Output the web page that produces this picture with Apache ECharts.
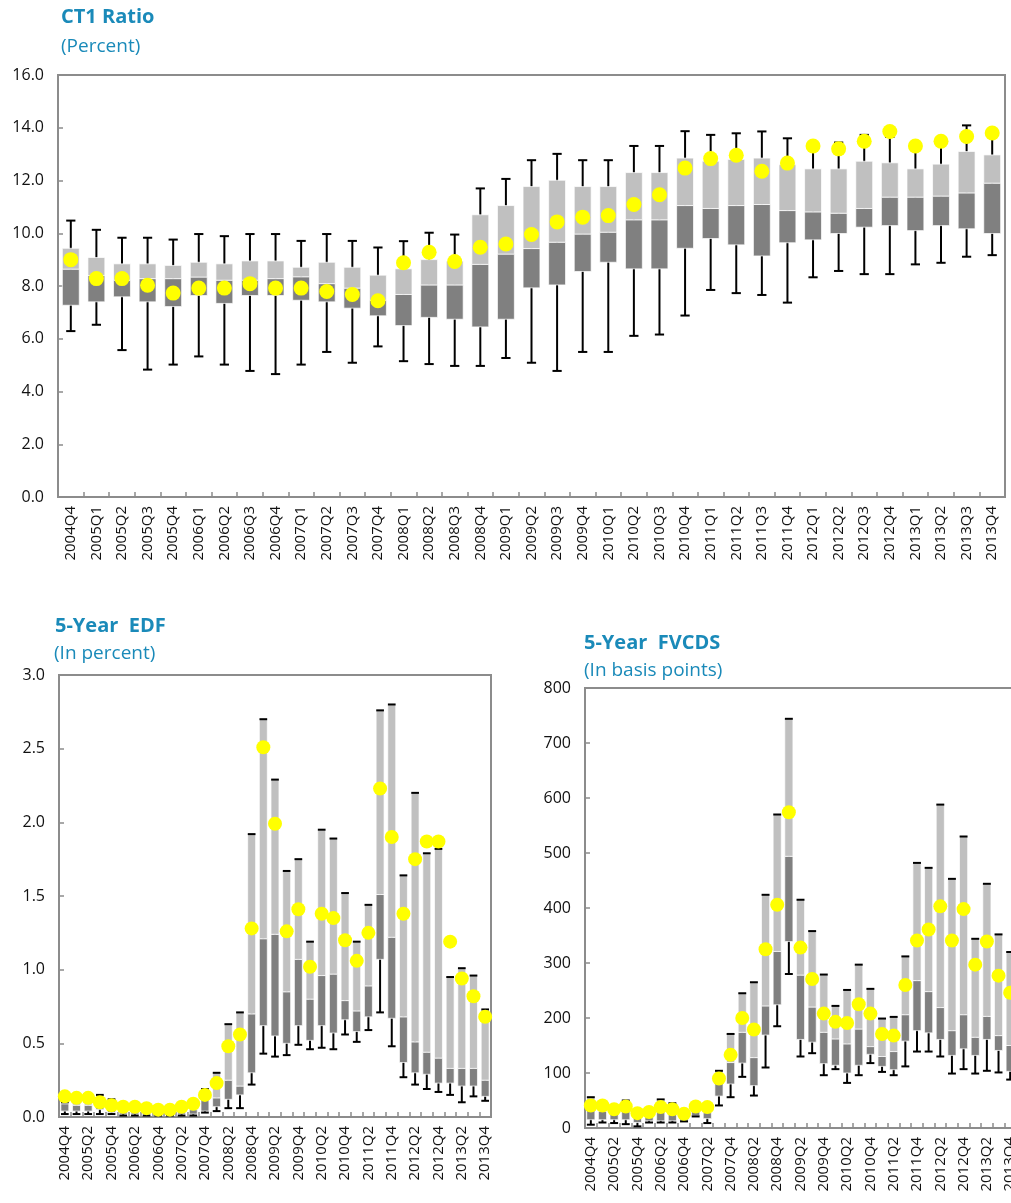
<!DOCTYPE html>
<html>
<head>
<meta charset="utf-8">
<script src="https://cdn.jsdelivr.net/npm/echarts@6/dist/echarts.min.js"></script>
<style>
html,body{margin:0;padding:0;background:#fff;}
#chart{width:1011px;height:1203px;}
</style>
</head>
<body>
<div id="chart"></div>
<script>
const quarters = ['2004Q4','2005Q1','2005Q2','2005Q3','2005Q4','2006Q1','2006Q2','2006Q3','2006Q4',
  '2007Q1','2007Q2','2007Q3','2007Q4','2008Q1','2008Q2','2008Q3','2008Q4','2009Q1','2009Q2','2009Q3','2009Q4',
  '2010Q1','2010Q2','2010Q3','2010Q4','2011Q1','2011Q2','2011Q3','2011Q4','2012Q1','2012Q2','2012Q3','2012Q4',
  '2013Q1','2013Q2','2013Q3','2013Q4'];

// CT1 Ratio (percent)
const ct1Low  = [6.29,6.53,5.57,4.83,5.02,5.33,5.02,4.78,4.66,5.02,5.50,5.09,5.71,5.15,5.04,4.97,4.97,5.27,5.09,4.78,5.50,5.50,6.11,6.16,6.88,7.85,7.73,7.66,7.37,8.33,8.57,8.45,8.45,8.82,8.88,9.11,9.17];
const ct1Q1   = [7.27,7.40,7.59,7.40,7.22,7.64,7.34,7.64,7.64,7.46,7.40,7.16,6.87,6.50,6.81,6.74,6.45,6.74,7.93,8.04,8.55,8.90,8.65,8.65,9.43,9.80,9.56,9.14,9.64,9.75,9.99,10.23,10.29,10.10,10.29,10.17,9.99];
const ct1Med  = [8.64,8.40,8.22,8.28,8.28,8.34,8.22,8.22,8.28,8.35,8.09,7.92,7.46,7.68,8.04,8.04,8.82,9.21,9.42,9.66,9.97,10.04,10.51,10.51,11.05,10.94,11.05,11.09,10.86,10.81,10.76,10.94,11.37,11.37,11.41,11.53,11.90];
const ct1Q3   = [9.43,9.08,8.84,8.84,8.78,8.90,8.84,8.95,8.95,8.71,8.90,8.71,8.41,8.65,9.00,8.94,10.70,11.05,11.77,12.01,11.77,11.77,12.30,12.30,12.85,12.73,12.80,12.85,12.60,12.44,12.44,12.73,12.67,12.44,12.62,13.10,12.97];
const ct1High = [10.48,10.13,9.83,9.83,9.76,9.97,9.89,9.97,9.97,9.71,9.97,9.71,9.46,9.70,10.02,9.95,11.70,12.06,12.77,13.01,12.77,12.77,13.31,13.31,13.87,13.73,13.79,13.86,13.60,13.30,13.44,13.73,13.65,13.20,13.40,14.09,13.93];
const ct1Dot  = [9.00,8.28,8.28,8.03,7.73,7.92,7.92,8.09,7.92,7.92,7.79,7.68,7.44,8.88,9.28,8.93,9.47,9.59,9.95,10.43,10.61,10.67,11.09,11.46,12.47,12.83,12.96,12.35,12.66,13.31,13.20,13.49,13.86,13.31,13.49,13.67,13.80];

// 5-Year EDF (percent)
const edfLow  = [0.02,0.02,0.02,0.02,0.02,0.01,0.01,0.01,0.01,0.01,0.01,0.01,0.03,0.04,0.06,0.06,0.22,0.43,0.41,0.42,0.49,0.46,0.47,0.46,0.56,0.51,0.59,0.71,0.48,0.27,0.22,0.19,0.17,0.15,0.10,0.14,0.11];
const edfQ1   = [0.04,0.04,0.04,0.05,0.03,0.02,0.02,0.02,0.02,0.02,0.02,0.02,0.04,0.07,0.12,0.15,0.30,0.62,0.55,0.50,0.62,0.52,0.62,0.57,0.66,0.58,0.68,1.07,0.67,0.37,0.30,0.29,0.23,0.23,0.21,0.21,0.14];
const edfMed  = [0.09,0.08,0.08,0.10,0.07,0.05,0.05,0.04,0.04,0.04,0.05,0.05,0.12,0.13,0.25,0.21,0.70,1.21,1.24,0.85,1.07,0.80,0.96,0.97,0.79,0.72,0.89,1.51,1.22,0.68,0.51,0.44,0.40,0.33,0.33,0.33,0.25];
const edfHigh = [0.10,0.10,0.11,0.15,0.12,0.08,0.07,0.06,0.05,0.05,0.07,0.08,0.19,0.30,0.63,0.71,1.92,2.70,2.29,1.67,1.75,1.19,1.95,1.89,1.52,1.19,1.44,2.76,2.80,1.64,2.20,1.79,1.82,0.95,1.01,0.96,0.73];
const edfDot  = [0.14,0.13,0.13,0.10,0.08,0.07,0.07,0.06,0.05,0.05,0.07,0.09,0.15,0.23,0.48,0.56,1.28,2.51,1.99,1.26,1.41,1.02,1.38,1.35,1.20,1.06,1.25,2.23,1.90,1.38,1.75,1.87,1.87,1.19,0.94,0.82,0.68];

// 5-Year FVCDS (basis points)
const cdsLow  = [6,10,9,7,3,10,10,10,12,21,9,41,56,93,59,110,185,280,130,136,96,107,82,96,118,102,96,112,139,139,130,99,107,99,104,101,88];
const cdsQ1   = [15,15,15,15,10,13,13,13,12,22,17,58,80,118,77,169,224,339,161,156,117,114,100,114,134,112,106,158,177,173,161,132,144,132,161,141,103];
const cdsMed  = [33,30,25,30,20,22,30,28,18,30,28,86,119,174,128,222,321,494,278,220,174,162,153,180,148,130,139,206,268,248,219,177,206,165,203,168,150];
const cdsHigh = [56,45,40,50,32,35,52,45,28,42,44,104,171,245,265,424,570,744,415,358,279,222,251,297,253,199,202,312,482,473,588,453,530,344,444,352,320];
const cdsDot  = [41,41,34,39,27,29,38,34,26,39,38,90,133,200,179,325,406,574,328,271,208,193,191,225,208,171,168,260,341,361,403,341,398,297,339,277,246];

const FONT = '"Open Sans", "Noto Sans", sans-serif';
const TITLE_COLOR = '#1a8ab9';
const AXIS_COLOR = '#8c8c8c';
const DARK = '#808080';
const LIGHT = '#c0c0c0';
const DOT = '#ffff00';

function boxData(low, q1, med, q3, high) {
  return low.map((v, i) => [i, v, q1[i], med[i], q3[i], high[i]]);
}

function boxSeries(gi, data, boxFrac, capFrac) {
  return {
    type: 'custom',
    xAxisIndex: gi, yAxisIndex: gi,
    encode: { x: 0, y: [1, 2, 3, 4, 5] },
    data: data,
    z: 2,
    renderItem: function (params, api) {
      const x = api.value(0);
      const pLow = api.coord([x, api.value(1)]);
      const pQ1 = api.coord([x, api.value(2)]);
      const pMed = api.coord([x, api.value(3)]);
      const pQ3 = api.coord([x, api.value(4)]);
      const pHigh = api.coord([x, api.value(5)]);
      const band = api.size([1, 0])[0];
      const bw = band * boxFrac;
      const cw = band * capFrac;
      const cx = pLow[0];
      const lineStyle = { stroke: '#000', lineWidth: 2 };
      const rectStroke = { stroke: 'rgba(255,255,255,0.7)', lineWidth: 1 };
      return {
        type: 'group',
        children: [
          { type: 'line', shape: { x1: cx, y1: pLow[1], x2: cx, y2: pHigh[1] }, style: lineStyle },
          { type: 'rect', shape: { x: cx - bw / 2, y: pMed[1], width: bw, height: pQ1[1] - pMed[1] },
            style: Object.assign({ fill: DARK }, rectStroke) },
          { type: 'rect', shape: { x: cx - bw / 2, y: pQ3[1], width: bw, height: pMed[1] - pQ3[1] },
            style: Object.assign({ fill: LIGHT }, rectStroke) },
          { type: 'line', shape: { x1: cx - cw / 2, y1: pLow[1], x2: cx + cw / 2, y2: pLow[1] }, style: lineStyle },
          { type: 'line', shape: { x1: cx - cw / 2, y1: pHigh[1], x2: cx + cw / 2, y2: pHigh[1] }, style: lineStyle }
        ]
      };
    }
  };
}

function dotSeries(gi, vals, size) {
  return {
    type: 'scatter',
    xAxisIndex: gi, yAxisIndex: gi,
    data: vals.map((v, i) => [i, v]),
    symbol: 'circle',
    symbolSize: size,
    itemStyle: { color: DOT, opacity: 1 },
    z: 5
  };
}

function xAxis(gi, labelInterval) {
  return {
    type: 'category', gridIndex: gi, data: quarters, boundaryGap: true,
    axisLine: { show: true, lineStyle: { color: AXIS_COLOR, width: 2 } },
    axisTick: { show: true, inside: true, interval: 0, length: 5, lineStyle: { color: AXIS_COLOR, width: 1.5 } },
    axisLabel: { rotate: 90, interval: labelInterval, fontSize: 15, color: '#111', fontFamily: FONT, margin: 9 },
    splitLine: { show: false }
  };
}

function yAxis(gi, max, interval, decimals) {
  return {
    type: 'value', gridIndex: gi, min: 0, max: max, interval: interval,
    axisLine: { show: true, lineStyle: { color: AXIS_COLOR, width: 2 } },
    axisTick: { show: true, inside: true, length: 5, lineStyle: { color: AXIS_COLOR, width: 1.5 } },
    axisLabel: { fontSize: 16, color: '#111', fontFamily: FONT, margin: 14,
      formatter: v => v.toFixed(decimals) },
    splitLine: { show: false }
  };
}

const gridBase = { show: true, borderColor: AXIS_COLOR, borderWidth: 2, backgroundColor: 'transparent',
  containLabel: false, outerBoundsMode: 'none' };

function titleText(text, left, top, bold) {
  return { type: 'text', left: left, top: top,
    style: { text: text, fill: TITLE_COLOR, font: (bold ? 'bold 20px ' : '19px ') + FONT } };
}

const chart = echarts.init(document.getElementById('chart'), null, { renderer: 'canvas' });
chart.setOption({
  animation: false,
  backgroundColor: '#fff',
  grid: [
    Object.assign({ left: 58, top: 75, width: 947, height: 422 }, gridBase),
    Object.assign({ left: 59, top: 675, width: 432, height: 442 }, gridBase),
    Object.assign({ left: 585, top: 688, width: 431, height: 440 }, gridBase)
  ],
  xAxis: [xAxis(0, 0), xAxis(1, 1), xAxis(2, 1)],
  yAxis: [yAxis(0, 16, 2, 1), yAxis(1, 3, 0.5, 1), yAxis(2, 800, 100, 0)],
  graphic: [
    titleText('CT1 Ratio', 61, 7, true),
    titleText('(Percent)', 61, 37, false),
    titleText('5-Year  EDF', 55, 616, true),
    titleText('(In percent)', 54, 644, false),
    titleText('5-Year  FVCDS', 584, 633, true),
    titleText('(In basis points)', 584, 661, false)
  ],
  series: [
    boxSeries(0, boxData(ct1Low, ct1Q1, ct1Med, ct1Q3, ct1High), 0.66, 0.36),
    dotSeries(0, ct1Dot, 15),
    boxSeries(1, boxData(edfLow, edfQ1, edfMed, edfHigh, edfHigh), 0.68, 0.66),
    dotSeries(1, edfDot, 14),
    boxSeries(2, boxData(cdsLow, cdsQ1, cdsMed, cdsHigh, cdsHigh), 0.7, 0.68),
    dotSeries(2, cdsDot, 14)
  ]
});
</script>
</body>
</html>
